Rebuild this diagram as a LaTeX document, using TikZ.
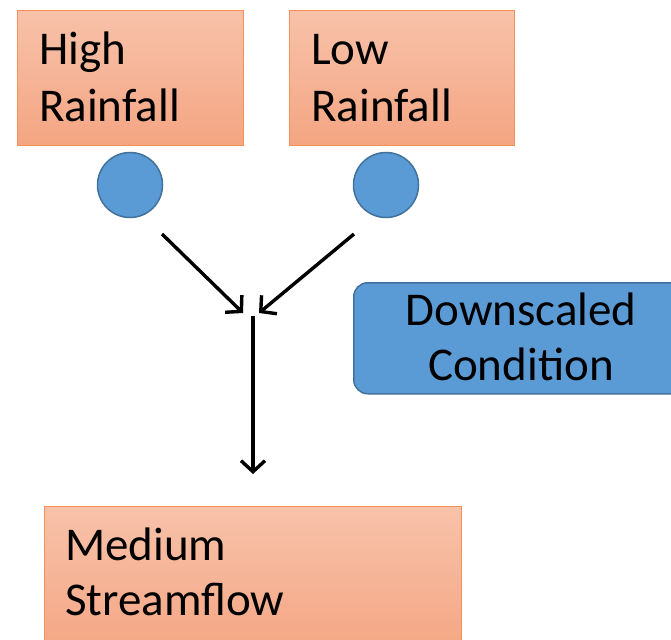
\documentclass[tikz,border=0pt]{standalone}
\usepackage{fontspec}
\setmainfont{Carlito}
\usetikzlibrary{arrows.meta,calc}
\definecolor{otop}{RGB}{248,194,170}
\definecolor{obot}{RGB}{244,165,130}
\definecolor{oline}{RGB}{244,145,85}
\definecolor{bfill}{RGB}{91,155,213}
\definecolor{bline}{RGB}{65,113,156}
\tikzset{
  obox/.style={draw=oline, line width=1.2pt, top color=otop, bottom color=obot, anchor=north west, inner sep=0pt},
  bcircle/.style={circle, draw=bline, line width=1.5pt, fill=bfill, minimum size=65pt, inner sep=0pt},
  bbox/.style={draw=bline, line width=1.5pt, fill=bfill, rounded corners=14pt, anchor=north west, inner sep=0pt},
  txt/.style={font=\fontsize{47}{57}\selectfont, align=left, inner sep=0pt, text=black},
  arr/.style={line width=3.4pt, -{Straight Barb[length=11pt, width=24pt, line width=3.4pt]}}
}
\begin{document}
\begin{tikzpicture}[x=1pt, y=-1pt]
\useasboundingbox (0,0) rectangle (671,639);
\clip (0,0) rectangle (671,639);
% boxes
\node[obox, minimum width=226pt, minimum height=135pt] (hr) at (17,10) {};
\node[obox, minimum width=225pt, minimum height=135pt] (lr) at (289,10) {};
\node[obox, minimum width=417pt, minimum height=150pt] (ms) at (44,506) {};
\node[bbox, minimum width=336pt, minimum height=111pt] (dc) at (353,282) {};
% texts (base anchor = baseline of last line)
\node[txt, anchor=base west] (hrt) at (39,122) {High\\Rainfall};
\node[txt, anchor=base west] (lrt) at (311,122) {Low\\Rainfall};
\node[txt, anchor=base west, font=\fontsize{47}{55}\selectfont] (mst) at (65,615) {Medium\\Streamflow};
\node[txt, anchor=base, align=center, font=\fontsize{47}{55}\selectfont] (dct) at (521,380) {Downscaled\\Condition};
% circles
\node[bcircle] (c1) at (130,185) {};
\node[bcircle] (c2) at (386,185) {};
% arrows
\coordinate (a1s) at (162,234);
\coordinate (a1e) at (243,313);
\coordinate (a2s) at (354,234);
\coordinate (a2e) at (259,313);
\coordinate (vs) at (253,316);
\coordinate (ve) at (253,474);
\draw[arr] (a1s) -- (a1e);
\draw[arr] (a2s) -- (a2e);
\draw[arr] (vs) -- (ve);
\end{tikzpicture}
\end{document}
